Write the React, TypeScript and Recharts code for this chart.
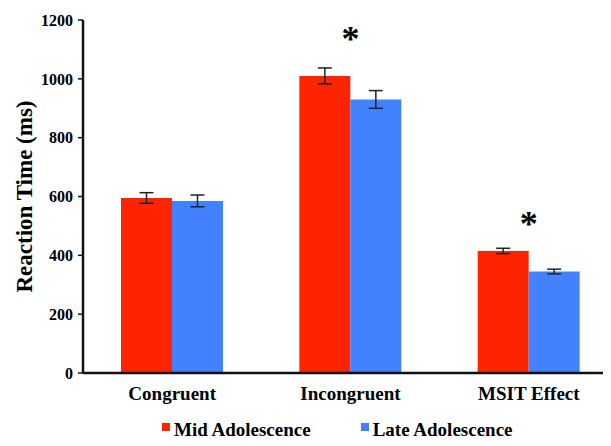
import {
  Bar,
  ComposedChart,
  ErrorBar,
  Legend,
  Scatter,
  XAxis,
  YAxis,
} from "recharts";

const categories = ["Congruent", "Incongruent", "MSIT Effect"];
const midValues = [595, 1010, 415];
const lateValues = [585, 930, 345];
const midErrors = [18, 27, 9];
const lateErrors = [20, 30, 8];
// where the significance asterisks sit (ms), none for Congruent
const starValues = [null, 1152, 523];
const yTicks = [0, 200, 400, 600, 800, 1000, 1200];

const RED = "#FF2400";
const BLUE = "#4282FF";
const FONT = "'Liberation Serif', 'Times New Roman', serif";

const data = categories.map((name, i) => ({
  name,
  mid: midValues[i],
  late: lateValues[i],
  midErr: midErrors[i],
  lateErr: lateErrors[i],
  star: starValues[i],
}));

function Star(props: any) {
  const { cx, cy, payload } = props;
  if (payload == null || payload.star == null) return null;
  return (
    <text
      x={cx}
      y={cy + 17}
      textAnchor="middle"
      fontFamily={FONT}
      fontWeight="bold"
      fontSize={36}
      fill="#000"
    >
      *
    </text>
  );
}

function YLabel(props: any) {
  const vb = props.viewBox || { y: 0, height: 0 };
  const cy = vb.y + vb.height / 2;
  return (
    <text
      x={24}
      y={cy}
      transform={`rotate(-90 24 ${cy})`}
      textAnchor="middle"
      dominantBaseline="central"
      fontFamily={FONT}
      fontWeight="bold"
      fontSize={23}
      fill="#000"
    >
      Reaction Time (ms)
    </text>
  );
}

function LegendBox() {
  const items = [
    { label: "Mid Adolescence", color: RED },
    { label: "Late Adolescence", color: BLUE },
  ];
  return (
    <div
      style={{
        display: "flex",
        paddingLeft: 162,
        fontFamily: FONT,
        fontWeight: "bold",
        fontSize: 19,
        lineHeight: "19px",
        color: "#000",
      }}
    >
      {items.map((it, i) => (
        <div
          key={it.label}
          style={{ display: "flex", alignItems: "flex-start", marginLeft: i ? 50 : 0 }}
        >
          <span
            style={{
              width: 8,
              height: 8,
              marginTop: 3,
              marginRight: 4,
              background: it.color,
              display: "inline-block",
            }}
          />
          <span>{it.label}</span>
        </div>
      ))}
    </div>
  );
}

export default function App() {
  return (
    <div style={{ width: 611, height: 446, overflow: "hidden", margin: -8, background: "#fff" }}>
      <ComposedChart
        width={618}
        height={446}
        data={data}
        margin={{ top: 20, right: 0, left: 0, bottom: 33 }}
        barGap={0}
      >
        <XAxis
          dataKey="name"
          height={40}
          tickLine={false}
          tickSize={0}
          tickMargin={14}
          axisLine={{ stroke: "#111", strokeWidth: 2.5 }}
          tick={{ fill: "#000", fontFamily: FONT, fontWeight: "bold", fontSize: 19 }}
        />
        <YAxis
          width={83}
          domain={[0, 1200]}
          ticks={yTicks}
          interval={0}
          tickSize={5}
          tickMargin={5}
          axisLine={{ stroke: "#111", strokeWidth: 2.5 }}
          tickLine={{ stroke: "#111", strokeWidth: 1.5 }}
          tick={{ fill: "#000", fontFamily: FONT, fontWeight: "bold", fontSize: 16 }}
          label={<YLabel />}
        />
        <Legend
          layout="vertical"
          align="center"
          verticalAlign="middle"
          content={<LegendBox />}
          wrapperStyle={{ top: 420, left: 0, width: 611 }}
        />
        <Bar dataKey="mid" name="Mid Adolescence" fill={RED} barSize={51} isAnimationActive={false}>
          <ErrorBar dataKey="midErr" width={7} stroke="#222" strokeWidth={1.5} />
        </Bar>
        <Bar dataKey="late" name="Late Adolescence" fill={BLUE} barSize={51} isAnimationActive={false}>
          <ErrorBar dataKey="lateErr" width={7} stroke="#222" strokeWidth={1.5} />
        </Bar>
        <Scatter dataKey="star" shape={<Star />} legendType="none" isAnimationActive={false} />
      </ComposedChart>
    </div>
  );
}
